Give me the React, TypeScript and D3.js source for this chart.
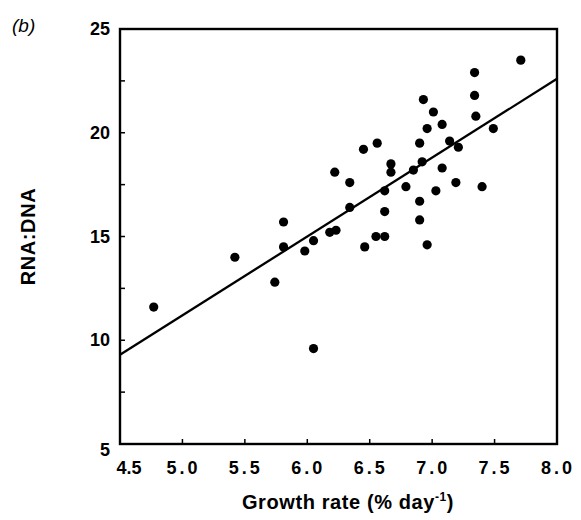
import React from "react"
import * as d3 from "d3"

// growth rate (% day-1) and RNA:DNA
const growthRate = [
	4.77, 5.42, 5.74, 5.81, 5.81, 5.98, 6.05, 6.05, 6.18, 6.23, 6.22,
	6.34, 6.34, 6.45, 6.46, 6.55, 6.62, 6.56, 6.62, 6.62, 6.67, 6.67,
	6.79, 6.85, 6.90, 6.90, 6.90, 6.92, 6.93, 6.96, 6.96, 7.01, 7.03,
	7.08, 7.08, 7.14, 7.19, 7.21, 7.34, 7.34, 7.35, 7.40, 7.49, 7.71
];
const rnaDna = [
	11.6, 14.0, 12.8, 15.7, 14.5, 14.3, 14.8, 9.6, 15.2, 15.3, 18.1,
	17.6, 16.4, 19.2, 14.5, 15.0, 15.0, 19.5, 17.2, 16.2, 18.5, 18.1,
	17.4, 18.2, 19.5, 16.7, 15.8, 18.6, 21.6, 20.2, 14.6, 21.0, 17.2,
	20.4, 18.3, 19.6, 17.6, 19.3, 22.9, 21.8, 20.8, 17.4, 20.2, 23.5
];
// fitted line, value at each end of the x axis
const fitX = [4.5, 8.0];
const fitY = [9.3, 22.6];

const xTicks = [4.5, 5.0, 5.5, 6.0, 6.5, 7.0, 7.5, 8.0];
const yTicks = [5, 10, 15, 20, 25];
const yMinorTicks = [7.5, 12.5, 17.5, 22.5];

const W = 581, H = 520;
const margin = { left: 120, top: 29, right: 24, bottom: 76 };
const FONT = "'Liberation Sans', Arial, Helvetica, sans-serif";

export default function App() {
	const x = d3.scaleLinear().domain([4.5, 8.0]).range([margin.left, W - margin.right]);
	const y = d3.scaleLinear().domain([5, 25]).range([H - margin.bottom, margin.top]);
	const line = d3.line<number>()
		.x((d, i) => x(fitX[i]))
		.y(d => y(d));

	const x0 = x.range()[0], x1 = x.range()[1];
	const y0 = y.range()[0], y1 = y.range()[1];

	return (
		<svg width={W} height={H} style={{ position: "absolute", left: 0, top: 0, background: "#fff" }}>
			<text x={12} y={32} fontFamily={FONT} fontStyle="italic" fontSize={19}>(b)</text>

			{/* frame */}
			<rect x={x0} y={y1} width={x1 - x0} height={y0 - y1} fill="none" stroke="#000" strokeWidth={2.4} />

			{/* x ticks */}
			{xTicks.map((t, i) => (
				<g key={"xt" + i}>
					{i > 0 && i < xTicks.length - 1 &&
						<line x1={x(t)} x2={x(t)} y1={y0} y2={y0 - 5} stroke="#000" strokeWidth={1.5} />}
					<text x={i === 0 ? x(t) + 9 : x(t) + 1} y={y0 + 30} textAnchor="middle" fontFamily={FONT}
						fontWeight="bold" fontSize={18} letterSpacing={i === 0 ? 0 : 3}>
						{t.toFixed(1)}
					</text>
				</g>
			))}

			{/* y ticks */}
			{yTicks.map((t, i) => (
				<g key={"yt" + i}>
					{t > 5 && t < 25 &&
						<line x1={x0} x2={x0 + 5} y1={y(t)} y2={y(t)} stroke="#000" strokeWidth={1.5} />}
					<text x={110} y={y(t) + (t === 5 ? 12 : 6)} textAnchor="end" fontFamily={FONT}
						fontWeight="bold" fontSize={18}>{t}</text>
				</g>
			))}
			{yMinorTicks.map((t, i) => (
				<line key={"ym" + i} x1={x0} x2={x0 + 5} y1={y(t)} y2={y(t)} stroke="#000" strokeWidth={1.5} />
			))}

			{/* regression line */}
			<path d={line(fitY) || ""} fill="none" stroke="#000" strokeWidth={2.3} />

			{/* points */}
			{growthRate.map((g, i) => (
				<circle key={"p" + i} cx={x(g)} cy={y(rnaDna[i])} r={4.6} fill="#000" />
			))}

			{/* axis titles */}
			<text x={348} y={509} textAnchor="middle" fontFamily={FONT} fontWeight="bold" fontSize={20}
				letterSpacing={0.6}>
				Growth rate (% day<tspan dy={-8} fontSize={12}>-1</tspan><tspan dy={8}>)</tspan>
			</text>
			<text transform={`translate(35, ${(y0 + y1) / 2}) rotate(-90)`} textAnchor="middle"
				fontFamily={FONT} fontWeight="bold" fontSize={20} letterSpacing={0.6}>RNA:DNA</text>
		</svg>
	)
}
